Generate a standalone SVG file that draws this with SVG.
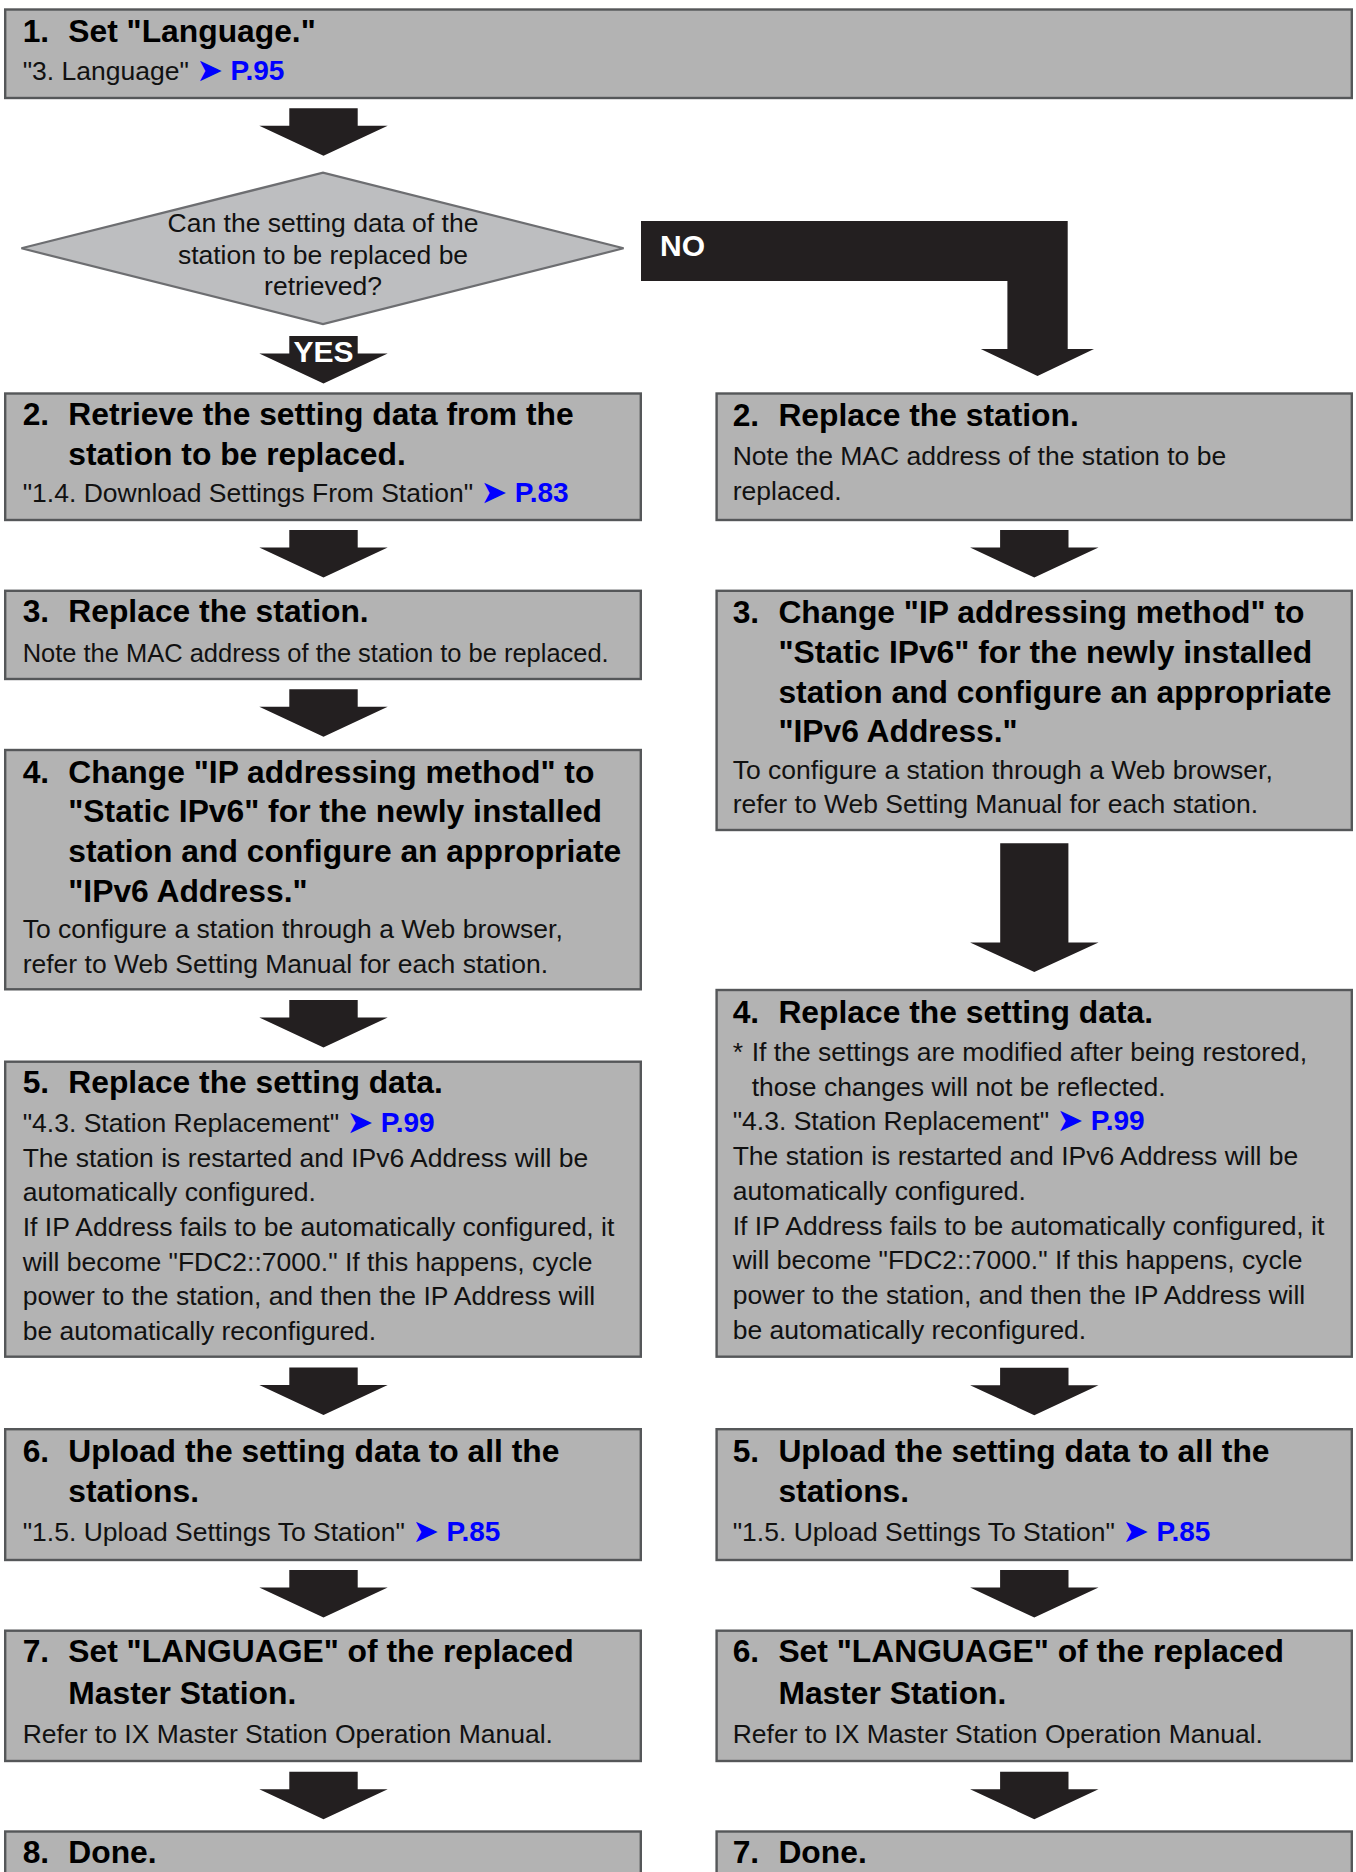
<svg xmlns="http://www.w3.org/2000/svg" xmlns:xlink="http://www.w3.org/1999/xlink" width="1356" height="1872" viewBox="0 0 1356 1872">
<style>
.box{fill:#b3b3b3;stroke:#555759;stroke-width:2.4}
.dia{fill:#bdbec0;stroke:#6d6e71;stroke-width:2.2}
.t{font-family:"Liberation Sans",Arial,Helvetica,sans-serif;font-size:31.8px;font-weight:bold;fill:#000}
.b{font-family:"Liberation Sans",Arial,Helvetica,sans-serif;font-size:26.5px;fill:#111}
.pg{fill:#0000ff;font-weight:bold;font-size:28px}
.ar{font-family:"DejaVu Sans",sans-serif;fill:#0000ff;font-weight:normal;font-size:32px}
.conn{fill:#231f20}
.wl{font-family:"Liberation Sans",Arial,Helvetica,sans-serif;font-size:30px;font-weight:bold;fill:#fff}
</style>
<defs>
<path id="dn" d="M-34.2,0 H34.2 V17.5 H64.2 L0,47.5 L-64.2,17.5 H-34.2 Z"/>
</defs>
<rect width="1356" height="1872" fill="#fff"/>

<g id="connectors" class="conn">
<use xlink:href="#dn" x="323.5" y="108.3"/>
<g id="yes-arrow"><use xlink:href="#dn" x="323.5" y="336"/><text class="wl" x="323.5" y="362.3" text-anchor="middle">YES</text></g>
<g id="no-arrow"><path d="M641,221 H1067.7 V349 H1094 L1037.5,376 L980.8,349 H1007.4 V281 H641 Z"/><text class="wl" x="660" y="256">NO</text></g>
<use xlink:href="#dn" x="323.5" y="530"/>
<use xlink:href="#dn" x="323.5" y="689.3"/>
<use xlink:href="#dn" x="323.5" y="1000"/>
<use xlink:href="#dn" x="323.5" y="1367.5"/>
<use xlink:href="#dn" x="323.5" y="1570"/>
<use xlink:href="#dn" x="323.5" y="1771.7"/>
<use xlink:href="#dn" x="1034.3" y="530"/>
<path d="M1000.2,843.3 H1068.4 V942.5 H1098.5 L1034.3,972 L970.1,942.5 H1000.2 Z"/>
<use xlink:href="#dn" x="1034.3" y="1367.7"/>
<use xlink:href="#dn" x="1034.3" y="1570"/>
<use xlink:href="#dn" x="1034.3" y="1771.7"/>
</g>

<g id="step1">
<rect class="box" x="5.2" y="9.5" width="1346.6" height="88.5"/>
<text class="t" x="22.7" y="41.7">1.</text><text class="t" x="68.3" y="41.7">Set "Language."</text>
<text class="b" x="22.7" y="80">"3. Language" <tspan class="ar" dy="1">➤</tspan> <tspan class="pg" dy="-1">P.95</tspan></text>
</g>

<g id="decision">
<polygon class="dia" points="21.4,248.3 323,172.7 623.6,248.3 323,324"/>
<text class="b" x="323" y="232" text-anchor="middle">Can the setting data of the</text>
<text class="b" x="323" y="263.5" text-anchor="middle">station to be replaced be</text>
<text class="b" x="323" y="295" text-anchor="middle">retrieved?</text>
</g>

<g id="L2">
<rect class="box" x="5.2" y="393.5" width="635.6" height="126.5"/>
<text class="t" x="22.7" y="425">2.</text><text class="t" x="68.3" y="425">Retrieve the setting data from the</text>
<text class="t" x="68.3" y="465">station to be replaced.</text>
<text class="b" x="22.7" y="501.7">"1.4. Download Settings From Station" <tspan class="ar" dy="1">➤</tspan> <tspan class="pg" dy="-1">P.83</tspan></text>
</g>

<g id="L3">
<rect class="box" x="5.2" y="590.8" width="635.6" height="88.2"/>
<text class="t" x="22.7" y="622.3">3.</text><text class="t" x="68.3" y="622.3">Replace the station.</text>
<text class="b" x="22.7" y="661.7" textLength="586" lengthAdjust="spacingAndGlyphs">Note the MAC address of the station to be replaced.</text>
</g>

<g id="L4">
<rect class="box" x="5.2" y="750" width="635.6" height="239.3"/>
<text class="t" x="22.7" y="782.7">4.</text><text class="t" x="68.3" y="782.7">Change "IP addressing method" to</text>
<text class="t" x="68.3" y="822.3">"Static IPv6" for the newly installed</text>
<text class="t" x="68.3" y="861.9">station and configure an appropriate</text>
<text class="t" x="68.3" y="901.5">"IPv6 Address."</text>
<text class="b" x="22.7" y="938.3">To configure a station through a Web browser,</text>
<text class="b" x="22.7" y="972.6">refer to Web Setting Manual for each station.</text>
</g>

<g id="L5">
<rect class="box" x="5.2" y="1061.7" width="635.6" height="295"/>
<text class="t" x="22.7" y="1092.7">5.</text><text class="t" x="68.3" y="1092.7">Replace the setting data.</text>
<text class="b" x="22.7" y="1131.7">"4.3. Station Replacement" <tspan class="ar" dy="1">➤</tspan> <tspan class="pg" dy="-1">P.99</tspan></text>
<text class="b" x="22.7" y="1166.7">The station is restarted and IPv6 Address will be</text>
<text class="b" x="22.7" y="1201.3">automatically configured.</text>
<text class="b" x="22.7" y="1236">If IP Address fails to be automatically configured, it</text>
<text class="b" x="22.7" y="1270.7">will become "FDC2::7000." If this happens, cycle</text>
<text class="b" x="22.7" y="1305.3">power to the station, and then the IP Address will</text>
<text class="b" x="22.7" y="1340">be automatically reconfigured.</text>
</g>

<g id="L6">
<rect class="box" x="5.2" y="1429.2" width="635.6" height="130.8"/>
<text class="t" x="22.7" y="1461.5">6.</text><text class="t" x="68.3" y="1461.5">Upload the setting data to all the</text>
<text class="t" x="68.3" y="1501.7">stations.</text>
<text class="b" x="22.7" y="1541">"1.5. Upload Settings To Station" <tspan class="ar" dy="1">➤</tspan> <tspan class="pg" dy="-1">P.85</tspan></text>
</g>

<g id="L7">
<rect class="box" x="5.2" y="1630.7" width="635.6" height="130.3"/>
<text class="t" x="22.7" y="1662">7.</text><text class="t" x="68.3" y="1662">Set "LANGUAGE" of the replaced</text>
<text class="t" x="68.3" y="1703.5">Master Station.</text>
<text class="b" x="22.7" y="1742.5">Refer to IX Master Station Operation Manual.</text>
</g>

<g id="L8">
<rect class="box" x="5.2" y="1831.5" width="635.6" height="60"/>
<text class="t" x="22.7" y="1863">8.</text><text class="t" x="68.3" y="1863">Done.</text>
</g>

<g id="R2">
<rect class="box" x="716.6" y="393.5" width="635.2" height="126.5"/>
<text class="t" x="732.7" y="426">2.</text><text class="t" x="778.4" y="426">Replace the station.</text>
<text class="b" x="732.7" y="465">Note the MAC address of the station to be</text>
<text class="b" x="732.7" y="499.5">replaced.</text>
</g>

<g id="R3">
<rect class="box" x="716.6" y="590.8" width="635.2" height="239.2"/>
<text class="t" x="732.7" y="623.4">3.</text><text class="t" x="778.4" y="623.4">Change "IP addressing method" to</text>
<text class="t" x="778.4" y="663">"Static IPv6" for the newly installed</text>
<text class="t" x="778.4" y="702.6">station and configure an appropriate</text>
<text class="t" x="778.4" y="742.2">"IPv6 Address."</text>
<text class="b" x="732.7" y="779">To configure a station through a Web browser,</text>
<text class="b" x="732.7" y="813.3">refer to Web Setting Manual for each station.</text>
</g>

<g id="R4">
<rect class="box" x="716.6" y="990" width="635.2" height="366.7"/>
<text class="t" x="732.7" y="1022.7">4.</text><text class="t" x="778.4" y="1022.7">Replace the setting data.</text>
<text class="b" x="732.7" y="1061">*</text>
<text class="b" x="751.7" y="1061">If the settings are modified after being restored,</text>
<text class="b" x="751.7" y="1095.7">those changes will not be reflected.</text>
<text class="b" x="732.7" y="1130.3">"4.3. Station Replacement" <tspan class="ar" dy="1">➤</tspan> <tspan class="pg" dy="-1">P.99</tspan></text>
<text class="b" x="732.7" y="1165">The station is restarted and IPv6 Address will be</text>
<text class="b" x="732.7" y="1199.7">automatically configured.</text>
<text class="b" x="732.7" y="1234.5">If IP Address fails to be automatically configured, it</text>
<text class="b" x="732.7" y="1269.2">will become "FDC2::7000." If this happens, cycle</text>
<text class="b" x="732.7" y="1303.9">power to the station, and then the IP Address will</text>
<text class="b" x="732.7" y="1338.5">be automatically reconfigured.</text>
</g>

<g id="R5">
<rect class="box" x="716.6" y="1429.2" width="635.2" height="130.8"/>
<text class="t" x="732.7" y="1461.5">5.</text><text class="t" x="778.4" y="1461.5">Upload the setting data to all the</text>
<text class="t" x="778.4" y="1501.7">stations.</text>
<text class="b" x="732.7" y="1541">"1.5. Upload Settings To Station" <tspan class="ar" dy="1">➤</tspan> <tspan class="pg" dy="-1">P.85</tspan></text>
</g>

<g id="R6">
<rect class="box" x="716.6" y="1630.7" width="635.2" height="130.3"/>
<text class="t" x="732.7" y="1662">6.</text><text class="t" x="778.4" y="1662">Set "LANGUAGE" of the replaced</text>
<text class="t" x="778.4" y="1703.5">Master Station.</text>
<text class="b" x="732.7" y="1742.5">Refer to IX Master Station Operation Manual.</text>
</g>

<g id="R7">
<rect class="box" x="716.6" y="1831.5" width="635.2" height="60"/>
<text class="t" x="732.7" y="1863">7.</text><text class="t" x="778.4" y="1863">Done.</text>
</g>
</svg>
